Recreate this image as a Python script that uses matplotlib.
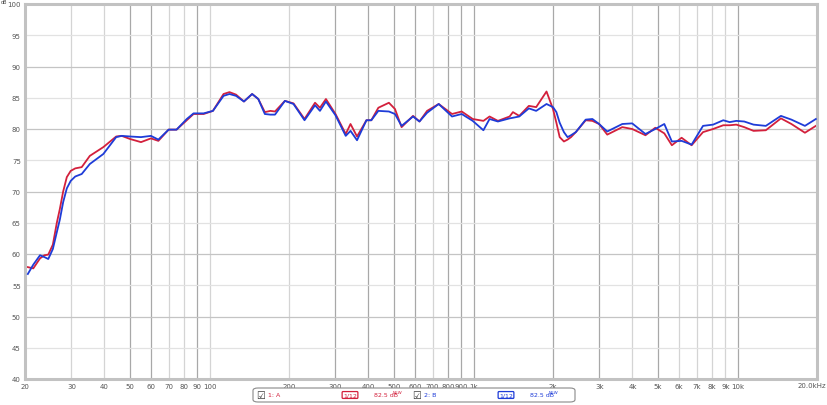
import matplotlib.pyplot as plt
from matplotlib.patches import FancyBboxPatch

# frequency response readings (Hz, dB)
freq_hz = [20.5, 21.5, 22.8, 23.7, 24.5, 25.5, 26.4, 27.1, 27.9, 28.8, 29.8, 31.0,
           32.8, 35.2, 39.6, 44.3, 46.5, 50, 55, 60, 64, 70, 75, 82, 87, 95, 103,
           113, 119, 126, 135, 145, 153, 162, 170, 177, 193, 208, 229, 251, 262,
           276, 300, 328, 342, 362, 393, 410, 436, 478, 504, 534, 590, 624, 667,
           738, 829, 902, 993, 1090, 1150, 1237, 1370, 1410, 1490, 1620, 1727,
           1890, 2000, 2060, 2120, 2200, 2270, 2340, 2440, 2660, 2820, 2990, 3210,
           3660, 3990, 4480, 4880, 5280, 5640, 6140, 6700, 7400, 8080, 8830, 9340,
           9890, 10600, 11500, 12800, 14600, 16000, 18000, 19800]

spl_a = [57.9, 57.7, 59.3, 59.8, 59.9, 61.5, 65.0, 67.2, 70.0, 72.3, 73.3, 73.7,
         73.9, 75.7, 77.1, 78.8, 78.9, 78.4, 77.9, 78.5, 78.1, 79.9, 79.9, 81.4,
         82.4, 82.4, 82.9, 85.6, 85.9, 85.5, 84.4, 85.6, 84.8, 82.7, 82.9, 82.8,
         84.5, 84.1, 81.6, 84.2, 83.4, 84.8, 82.4, 79.2, 80.8, 78.8, 81.4, 81.4,
         83.4, 84.2, 83.2, 80.3, 82.1, 81.2, 82.9, 84.0, 82.4, 82.8, 81.6, 81.3,
         82.0, 81.3, 82.0, 82.7, 82.1, 83.7, 83.5, 86.0, 83.2, 81.0, 78.7, 78.0,
         78.3, 78.7, 79.5, 81.4, 81.3, 80.8, 79.1, 80.3, 80.0, 79.0, 80.2, 79.3,
         77.4, 78.6, 77.4, 79.5, 80.0, 80.6, 80.6, 80.7, 80.3, 79.7, 79.8, 81.7,
         80.8, 79.4, 80.5]

spl_b = [56.8, 58.3, 59.8, 59.5, 59.2, 60.8, 63.5, 65.5, 68.3, 70.5, 71.7, 72.4,
         72.8, 74.4, 76.0, 78.7, 78.9, 78.8, 78.7, 78.9, 78.3, 79.9, 79.9, 81.6,
         82.5, 82.5, 82.9, 85.3, 85.6, 85.3, 84.4, 85.6, 84.8, 82.4, 82.3, 82.3,
         84.5, 84.0, 81.4, 83.8, 82.9, 84.4, 82.2, 78.9, 79.7, 78.2, 81.4, 81.4,
         82.9, 82.8, 82.4, 80.5, 82.0, 81.2, 82.6, 84.0, 82.0, 82.4, 81.3, 79.8,
         81.6, 81.2, 81.7, 81.8, 82.0, 83.3, 82.9, 84.0, 83.5, 82.7, 81.0, 79.5,
         78.7, 79.0, 79.5, 81.5, 81.6, 80.8, 79.6, 80.8, 80.9, 79.2, 80.0, 80.8,
         78.0, 78.1, 77.5, 80.5, 80.7, 81.4, 81.1, 81.3, 81.2, 80.7, 80.5, 82.1,
         81.5, 80.5, 81.6]

x_ticks = [20, 30, 40, 50, 60, 70, 80, 90, 100, 200, 300, 400, 500, 600, 700,
           800, 900, 1000, 2000, 3000, 4000, 5000, 6000, 7000, 8000, 9000,
           10000, 20000]
x_labels = ["20", "30", "40", "50", "60", "70", "80", "90", "100", "200", "300",
            "400", "500", "600", "700", "800", "900", "1k", "2k", "3k", "4k", "5k",
            "6k", "7k", "8k", "9k", "10k", "20.0kHz"]
dark_x = [50, 60, 90, 300, 400, 500, 600, 800, 900, 1000, 2000, 3000, 5000, 10000]
y_ticks = list(range(40, 101, 5))

RED = "#d3203c"
BLUE = "#1e3cd8"

fig = plt.figure(figsize=(8.28, 4.06), dpi=100)
ax = fig.add_axes([25 / 828, 26 / 406, 792 / 828, 375 / 406])
ax.set_xscale("log")
ax.set_xlim(20, 20000)
ax.set_ylim(40, 100)

for f in x_ticks[1:-1]:
    ax.axvline(f, color="#a8a8a8" if f in dark_x else "#d4d4d4", lw=0.9, zorder=0)
for v in y_ticks[1:-1]:
    ax.axhline(v, color="#c4c4c4" if v % 10 == 0 else "#e2e2e2", lw=0.9, zorder=0)

ax.plot(freq_hz, spl_a, color=RED, lw=1.3, zorder=2)
ax.plot(freq_hz, spl_b, color=BLUE, lw=1.3, zorder=3)

ax.set_xticks(x_ticks[:-1])
ax.set_xticklabels(x_labels[:-1])
ax.minorticks_off()
ax.set_yticks(y_ticks)
ax.tick_params(length=0, labelsize=5, colors="#555555", pad=3)
for sp in ax.spines.values():
    sp.set_color("#c2c2c2")
    sp.set_linewidth(2.2)
# last label sits against the right edge of the frame
fig.text(826 / 828, 1 - 386 / 406, x_labels[-1], fontsize=5, color="#555555",
         ha="right", va="center")
fig.text(1 / 828, 1.0, "dB", fontsize=3.5, color="#444444", ha="left", va="top")

# legend strip at the bottom
box = FancyBboxPatch((253 / 828, 3 / 406), 322 / 828, 14 / 406,
                     boxstyle="round,pad=0,rounding_size=0.006",
                     transform=fig.transFigure, fc="white", ec="#8a8a8a", lw=0.8)
fig.patches.append(box)
ty = 10 / 406
for x0, name, col in [(256, "1: A", RED), (412, "2: B", BLUE)]:
    fig.text(x0 / 828, ty, "\u2611", fontsize=7, color="#333333", va="center")
    fig.text((x0 + 12) / 828, ty, name, fontsize=4.5, color=col, va="center")
    fig.text((x0 + 94) / 828, ty, "1/12", fontsize=4.5, color=col, va="center",
             ha="center",
             bbox=dict(boxstyle="round,pad=0.15", fc="white", ec=col, lw=0.9))
    fig.text((x0 + 118) / 828, ty, "82.5 dB", fontsize=4.5, color=col, va="center")
    fig.text((x0 + 137) / 828, ty + 3 / 406, "NEW", fontsize=3, color=col,
             va="center")

fig.savefig("out.png", dpi=100)
